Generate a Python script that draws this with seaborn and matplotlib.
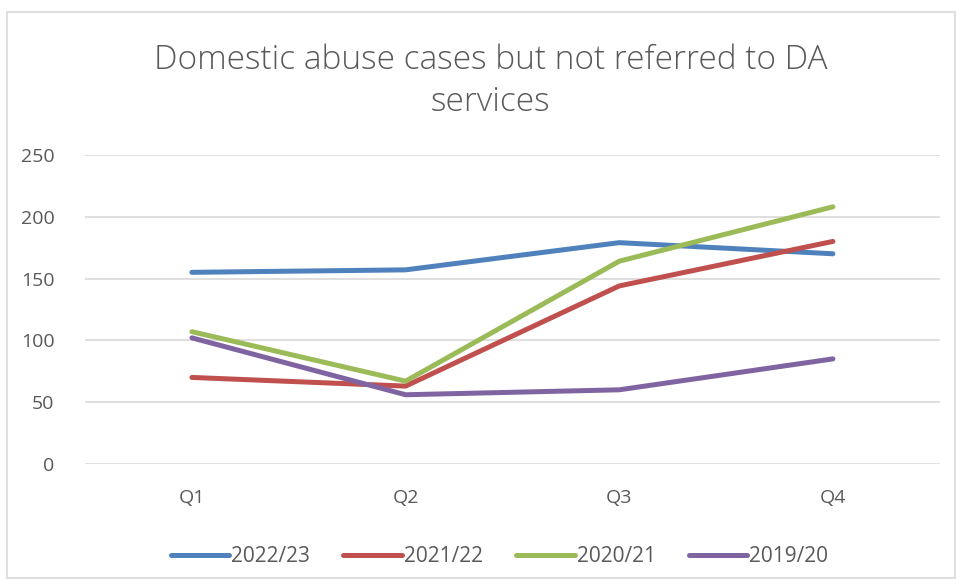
import matplotlib
matplotlib.use("Agg")
import matplotlib.pyplot as plt
import seaborn as sns
import pandas as pd
from matplotlib.patches import Rectangle

quarters = ["Q1", "Q2", "Q3", "Q4"]
series_names = ["2022/23", "2021/22", "2020/21", "2019/20"]
vals_2022_23 = [155, 157, 179, 170]
vals_2021_22 = [70, 63, 144, 180]
vals_2020_21 = [107, 67, 164, 208]
vals_2019_20 = [102, 56, 60, 85]
colors = ["#4F81BD", "#C0504D", "#9BBB59", "#8064A2"]

# long-form frame for seaborn
rows = []
for name, vals in zip(series_names, [vals_2022_23, vals_2021_22, vals_2020_21, vals_2019_20]):
    for q, v in zip(quarters, vals):
        rows.append({"quarter": q, "series": name, "value": v})
df = pd.DataFrame(rows)

sns.set_style("white")
plt.rcParams["font.family"] = ["Open Sans", "DejaVu Sans"]

fig = plt.figure(figsize=(9.56, 5.8), dpi=100)
ax = fig.add_axes([0.089, 0.2, 0.894, 0.533])

sns.lineplot(data=df, x="quarter", y="value", hue="series", hue_order=series_names,
             palette=colors, linewidth=3.6, sort=False, ax=ax, legend=True)
for line in ax.get_lines():
    line.set_solid_capstyle("round")

ax.set_xlim(-0.5, 3.5)
ax.set_ylim(0, 250)
ax.set_yticks(range(0, 251, 50))
ax.grid(axis="y", color="#D9D9D9", linewidth=1.2)
ax.set_axisbelow(True)
for s in ax.spines.values():
    s.set_visible(False)
ax.tick_params(axis="both", length=0, labelsize=14, labelcolor="#595959")
ax.tick_params(axis="x", pad=18)
ax.tick_params(axis="y", pad=22)
ax.set_xlabel("")
ax.set_ylabel("")

fig.text(0.513, 0.86, "Domestic abuse cases but not referred to DA\nservices",
         ha="center", va="center", fontsize=24, color="#595959",
         fontweight="light", linespacing=1.3)

handles, labels = ax.get_legend_handles_labels()
ax.legend(handles, labels, loc="center", bbox_to_anchor=(0.485, -0.3), ncol=4,
          frameon=False, fontsize=15, labelcolor="#595959", handlelength=2.8,
          handletextpad=0.1, columnspacing=1.6)

fig.patches.append(Rectangle((7 / 956, 2 / 580), 948 / 956, 566 / 580,
                             transform=fig.transFigure, fill=False,
                             edgecolor="#D9D9D9", linewidth=1.2))

fig.savefig("out.png", dpi=100)
